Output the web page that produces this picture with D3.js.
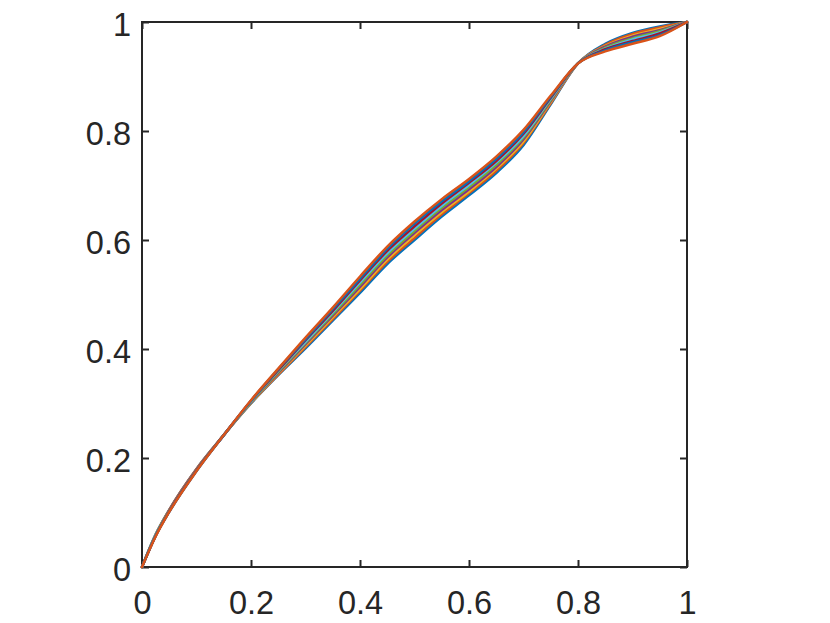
<!DOCTYPE html>
<html>
<head>
<meta charset="utf-8">
<script src="https://cdn.jsdelivr.net/npm/d3@7"></script>
<style>
  html, body { margin: 0; padding: 0; background: #fff; }
  svg { display: block; }
</style>
</head>
<body>
<svg id="chart"></svg>
<script>
// x positions shared by every curve
const xs = [0, 0.025, 0.05, 0.1, 0.15, 0.2, 0.25, 0.3, 0.35, 0.4, 0.45, 0.5, 0.55, 0.6, 0.65, 0.7, 0.75, 0.8, 0.85, 0.9, 0.95, 1];

// curve values (bottom curve in the middle first)
const s1 = [0, 0.060, 0.105, 0.180, 0.242, 0.300, 0.352, 0.401, 0.452, 0.503, 0.556, 0.600, 0.643, 0.682, 0.723, 0.774, 0.849, 0.924, 0.960, 0.980, 0.992, 1];
const s2 = [0, 0.059, 0.105, 0.180, 0.242, 0.301, 0.353, 0.404, 0.455, 0.507, 0.560, 0.604, 0.647, 0.686, 0.727, 0.778, 0.851, 0.924, 0.958, 0.978, 0.990, 1];
const s3 = [0, 0.059, 0.104, 0.179, 0.242, 0.301, 0.355, 0.406, 0.458, 0.510, 0.564, 0.609, 0.651, 0.689, 0.731, 0.781, 0.853, 0.924, 0.956, 0.975, 0.987, 1];
const s4 = [0, 0.058, 0.104, 0.179, 0.242, 0.302, 0.356, 0.409, 0.461, 0.514, 0.568, 0.613, 0.655, 0.693, 0.734, 0.785, 0.855, 0.924, 0.955, 0.973, 0.985, 1];
const s5 = [0, 0.058, 0.103, 0.178, 0.242, 0.303, 0.358, 0.411, 0.464, 0.518, 0.572, 0.617, 0.659, 0.697, 0.738, 0.788, 0.857, 0.924, 0.953, 0.970, 0.983, 1];
const s6 = [0, 0.058, 0.102, 0.177, 0.242, 0.304, 0.360, 0.413, 0.467, 0.522, 0.576, 0.621, 0.663, 0.701, 0.742, 0.791, 0.859, 0.924, 0.951, 0.968, 0.981, 1];
const s7 = [0, 0.057, 0.102, 0.177, 0.242, 0.305, 0.361, 0.416, 0.470, 0.526, 0.580, 0.625, 0.667, 0.705, 0.745, 0.795, 0.861, 0.924, 0.950, 0.965, 0.979, 1];
const s8 = [0, 0.057, 0.101, 0.176, 0.242, 0.305, 0.363, 0.418, 0.473, 0.529, 0.584, 0.630, 0.671, 0.708, 0.749, 0.798, 0.863, 0.924, 0.948, 0.963, 0.976, 1];
const s9 = [0, 0.056, 0.101, 0.176, 0.242, 0.306, 0.364, 0.421, 0.476, 0.533, 0.588, 0.634, 0.675, 0.712, 0.753, 0.802, 0.865, 0.924, 0.946, 0.960, 0.974, 1];

const seriesList = [s1, s2, s3, s4, s5, s6, s7, s8, s9];
const colors = ["#0072BD", "#D95319", "#EDB120", "#7E2F8E", "#77AC30", "#4DBEEE", "#A2142F", "#0072BD", "#D95319"];
const tickVals = [0, 0.2, 0.4, 0.6, 0.8, 1];
const tickLabels = ["0", "0.2", "0.4", "0.6", "0.8", "1"];

const width = 830;
const height = 623;
const margin = { top: 22, left: 142 };
const innerWidth = 545;
const innerHeight = 545;
const axisColor = "#262626";
const fontFamily = "'Liberation Sans', Arial, Helvetica, sans-serif";

const svg = d3.select("#chart").attr("width", width).attr("height", height);
const g = svg.append("g").attr("transform", `translate(${margin.left},${margin.top})`);

const x = d3.scaleLinear().domain([0, 1]).range([0, innerWidth]);
const y = d3.scaleLinear().domain([0, 1]).range([innerHeight, 0]);

const fmt = (d) => tickLabels[tickVals.indexOf(d)];

// bottom axis with labels, ticks pointing inward
const bottomAxis = g.append("g")
  .attr("transform", `translate(0,${innerHeight})`)
  .call(d3.axisBottom(x).tickValues(tickVals).tickFormat(fmt).tickSizeInner(-7).tickSizeOuter(0).tickPadding(24));

// left axis with labels
const leftAxis = g.append("g")
  .call(d3.axisLeft(y).tickValues(tickVals).tickFormat(fmt).tickSizeInner(-7).tickSizeOuter(0).tickPadding(11));

// top and right axes, ticks only
const topAxis = g.append("g")
  .call(d3.axisTop(x).tickValues(tickVals).tickSizeInner(-7).tickSizeOuter(0));
const rightAxis = g.append("g")
  .attr("transform", `translate(${innerWidth},0)`)
  .call(d3.axisRight(y).tickValues(tickVals).tickSizeInner(-7).tickSizeOuter(0));
topAxis.selectAll(".tick text").remove();
rightAxis.selectAll(".tick text").remove();

[bottomAxis, leftAxis, topAxis, rightAxis].forEach((a) => {
  a.select(".domain").remove();
  a.selectAll(".tick line").attr("stroke", axisColor).attr("stroke-width", 2);
  a.selectAll(".tick text")
    .attr("fill", axisColor)
    .style("font-family", fontFamily)
    .style("font-size", "32.5px");
});
leftAxis.selectAll(".tick text").attr("dy", "0.43em");

// box
g.append("rect")
  .attr("x", 0)
  .attr("y", 0)
  .attr("width", innerWidth)
  .attr("height", innerHeight)
  .attr("fill", "none")
  .attr("stroke", axisColor)
  .attr("stroke-width", 2);

// curves
const line = d3.line()
  .x((d, i) => x(xs[i]))
  .y((d) => y(d))
  .curve(d3.curveMonotoneX);

g.selectAll(".curve")
  .data(seriesList)
  .enter()
  .append("path")
  .attr("class", "curve")
  .attr("d", line)
  .attr("fill", "none")
  .attr("stroke", (d, i) => colors[i])
  .attr("stroke-width", 2.5)
  .attr("stroke-linejoin", "round")
  .attr("stroke-linecap", "round");
</script>
</body>
</html>
